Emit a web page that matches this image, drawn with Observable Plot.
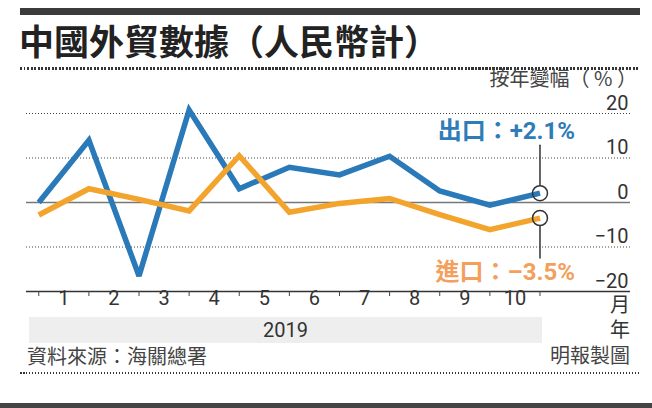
<!DOCTYPE html>
<html>
<head>
<meta charset="utf-8">
<script src="https://cdn.jsdelivr.net/npm/d3@7"></script>
<script src="https://cdn.jsdelivr.net/npm/@observablehq/plot@0.6"></script>
<style>
  html, body { margin: 0; padding: 0; background: #fff; }
  #wrap { position: relative; width: 652px; height: 408px; overflow: hidden; background: #fff;
          font-family: Roboto, "Noto Sans CJK TC", sans-serif; color: #333; }
  .abs { position: absolute; white-space: pre; }
  #chart { position: absolute; left: 0; top: 70px; }
  .cjk { font-family: "Noto Sans CJK TC", sans-serif; }
  .rcjk { font-family: Roboto, "Noto Sans CJK TC", sans-serif; }
</style>
</head>
<body>
<div id="wrap">
  <div class="abs" style="left:20px;top:8px;width:620px;height:7px;background:#3b3b3b"></div>
  <div class="abs cjk" id="title" style="left:19px;top:21px;font-size:35px;line-height:38px;font-weight:700;color:#222"></div>
  <div class="abs" style="left:20px;top:67px;width:620px;height:3px;background:repeating-linear-gradient(to right,#333 0 2px,transparent 2px 3.5px)"></div>
  <div class="abs cjk" id="ytitle" style="right:15px;top:68px;font-size:20px;line-height:20px;color:#444"></div>
  <div id="chart"></div>
  <div class="abs" id="band" style="left:29px;top:317px;width:513px;height:26px;background:#eeeeee;text-align:center;font-size:20px;line-height:27px;color:#333"></div>
  <div class="abs rcjk" id="xunit" style="right:22px;top:295px;font-size:20px;line-height:20px;color:#333"></div>
  <div class="abs rcjk" id="yearunit" style="right:22px;top:320px;font-size:20px;line-height:20px;color:#333"></div>
  <div class="abs cjk" id="source" style="left:27px;top:346px;font-size:20px;line-height:20px;color:#444"></div>
  <div class="abs rcjk" id="credit" style="right:22px;top:346px;font-size:20px;line-height:20px;color:#444"></div>
  <div class="abs" style="left:20px;top:372px;width:620px;height:2px;background:repeating-linear-gradient(to right,#333 0 1.5px,transparent 1.5px 3px)"></div>
  <div class="abs" style="left:0;top:403px;width:652px;height:5px;background:#444"></div>
</div>
<script>
// ---- data ----
const periods = ["2018-12","2019-01","2019-02","2019-03","2019-04","2019-05","2019-06","2019-07","2019-08","2019-09","2019-10"];
const exportsYoY = [0, 14.0, -16.5, 20.8, 3.1, 7.9, 6.2, 10.4, 2.6, -0.6, 2.1];
const importsYoY = [-2.8, 3.1, 0.7, -1.9, 10.5, -2.2, -0.2, 0.9, -2.7, -6.1, -3.5];
const monthLabels = ["1","2","3","4","5","6","7","8","9","10"];
const yearLabel = "2019";
const yTicks = [20, 10, 0, -10, -20];
const yTickLabels = ["20", "10", "0", "\u221210", "\u221220"];
const gridValues = [20, 10, -10];
const seriesNames = ["出口", "進口"];
const latestLabels = ["+2.1%", "\u20133.5%"];
const titleText = "中國外貿數據（人民幣計）";
const yTitleText = "按年變幅（ % ）";
const xUnit = "月";
const yearUnit = "年";
const sourceText = "資料來源：海關總署";
const creditText = "明報製圖";

document.getElementById("title").textContent = titleText;
document.getElementById("ytitle").textContent = yTitleText;
document.getElementById("band").textContent = yearLabel;
document.getElementById("xunit").textContent = xUnit;
document.getElementById("yearunit").textContent = yearUnit;
document.getElementById("source").textContent = sourceText;
document.getElementById("credit").textContent = creditText;

const BLUE = "#2a79b8";
const ORANGE = "#f3a42c";

const exportsData = periods.map((p, i) => ({i, v: exportsYoY[i]}));
const importsData = periods.map((p, i) => ({i, v: importsYoY[i]}));
const lastE = [exportsData[exportsData.length - 1]];
const lastI = [importsData[importsData.length - 1]];

const leaderUp = {draw(ctx, l, r) { ctx.moveTo(0, -8); ctx.lineTo(0, -l); }};

const chart = Plot.plot({
  width: 652,
  height: 260,
  marginLeft: 26,
  marginRight: 22,
  marginTop: 43,
  marginBottom: 39,
  style: {fontFamily: "Roboto, 'Noto Sans CJK TC', sans-serif", background: "transparent", overflow: "visible"},
  x: {domain: [-0.245, 11.806], axis: null, label: null},
  y: {domain: [-20, 20], axis: null, label: null},
  marks: [
    Plot.ruleY(gridValues, {stroke: "#444", strokeWidth: 1, strokeDasharray: "1,2"}),
    Plot.ruleY([0], {stroke: "#777", strokeWidth: 1.5}),
    Plot.ruleY([-20], {stroke: "#333", strokeWidth: 1.5}),
    Plot.axisX({ticks: periods.map((p, i) => i), tickSize: 5, tickFormat: () => "", label: null, stroke: "#444", strokeWidth: 1}),
    Plot.text(yTicks, {y: d => d, text: (d, i) => yTickLabels[i], frameAnchor: "right", textAnchor: "end", dx: -2, dy: -10, fontSize: 20, fill: "#333"}),
    Plot.text(monthLabels, {x: (d, i) => i + 0.5, text: d => d, frameAnchor: "bottom", dy: 13, fontSize: 20, fill: "#333"}),
    Plot.line(exportsData, {x: "i", y: "v", stroke: BLUE, strokeWidth: 5.5, strokeLinejoin: "miter", strokeMiterlimit: 3, strokeLinecap: "butt"}),
    Plot.line(importsData, {x: "i", y: "v", stroke: ORANGE, strokeWidth: 5.5, strokeLinejoin: "miter", strokeMiterlimit: 3, strokeLinecap: "butt"}),
    Plot.dot(lastE, {x: "i", y: "v", r: 7.5, stroke: "#333", strokeWidth: 1.5, fill: "none"}),
    Plot.dot(lastI, {x: "i", y: "v", r: 7.5, stroke: "#333", strokeWidth: 1.5, fill: "none"}),
    Plot.vector(lastE, {x: "i", y: "v", length: 48, rotate: 0, anchor: "start", shape: leaderUp, stroke: "#333", strokeWidth: 1.5}),
    Plot.vector(lastI, {x: "i", y: "v", length: 40, rotate: 180, anchor: "start", shape: leaderUp, stroke: "#333", strokeWidth: 1.5}),
    Plot.text(lastE, {x: "i", y: "v", text: () => seriesNames[0] + "：" + latestLabels[0], textAnchor: "end", dx: 35, dy: -62, fontSize: 24, fontWeight: "bold", fill: "#2f7cb8"}),
    Plot.text(lastI, {x: "i", y: "v", text: () => seriesNames[1] + "：" + latestLabels[1], textAnchor: "end", dx: 35, dy: 54, fontSize: 24, fontWeight: "bold", fill: "#f2a05c"})
  ]
});
document.getElementById("chart").appendChild(chart);
</script>
</body>
</html>
